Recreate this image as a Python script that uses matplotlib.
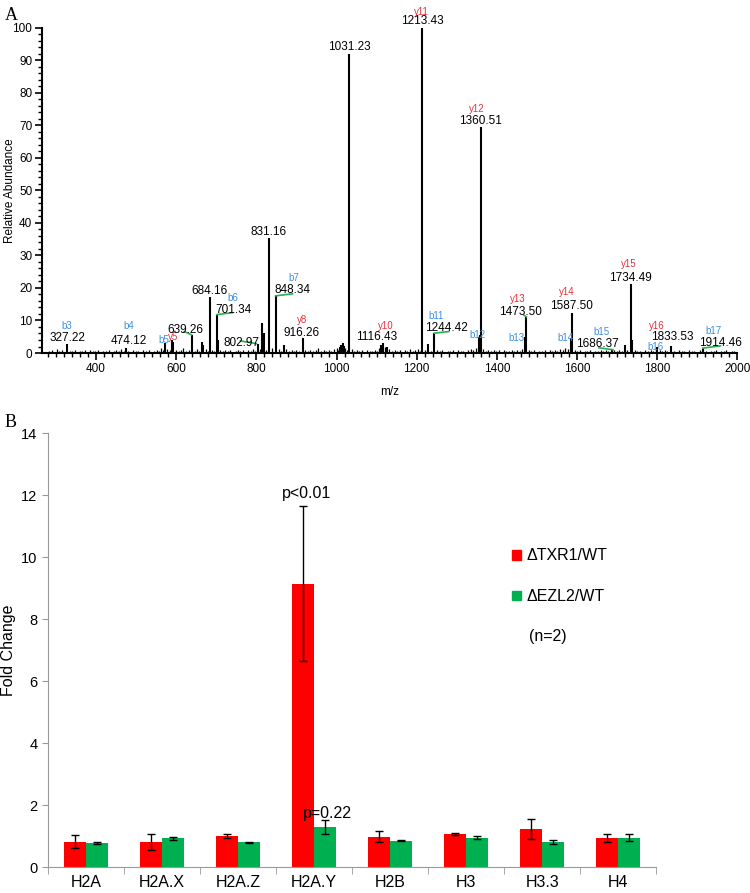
import numpy as np
import matplotlib.pyplot as plt
from matplotlib.patches import Patch
from matplotlib.ticker import MultipleLocator

plt.rcParams['font.family'] = ['Liberation Sans', 'DejaVu Sans']

# ---------------- panel A: MS/MS spectrum ----------------
peak_mz = [327.22, 474.12, 572, 590, 593, 639.26, 664, 668, 684.16, 701.34, 704,
           802.97, 813, 818, 831.16, 848.34, 868, 916.26, 1008, 1012, 1015, 1018,
           1031.23, 1110, 1116.43, 1126, 1213.43, 1229, 1244.42, 1355, 1358, 1360.51,
           1470, 1473.50, 1584, 1587.50, 1686.37, 1720, 1734.49, 1738, 1800, 1833.53,
           1914.46]
peak_int = [2.7, 1.5, 3.0, 4.0, 3.4, 5.5, 3.5, 2.6, 17.3, 11.7, 4.0,
            2.8, 9.3, 6.0, 35.4, 17.5, 2.5, 4.5, 1.8, 2.5, 3.0, 2.2,
            92.0, 2.5, 3.0, 2.0, 100.0, 2.8, 6.2, 5.0, 5.5, 69.5,
            5.0, 11.0, 4.5, 12.3, 1.2, 2.5, 21.2, 4.0, 2.0, 2.2,
            1.5]

noise = [(283, 0.6), (289, 0.9), (296, 0.4), (302, 1.1), (308, 0.5), (314, 0.8), (320, 0.4),
         (335, 0.7), (341, 0.5), (347, 1.0), (353, 0.4), (359, 0.7), (366, 0.5), (372, 0.9),
         (379, 0.4), (385, 0.8), (392, 0.5), (398, 0.6), (405, 0.9), (411, 0.4), (418, 0.7),
         (424, 0.5), (431, 1.0), (437, 0.4), (444, 0.6), (450, 0.8), (457, 0.5), (463, 1.2),
         (469, 0.6), (480, 0.7), (486, 0.4), (492, 0.9), (499, 0.5), (505, 0.7), (512, 0.4),
         (518, 0.8), (525, 0.6), (531, 0.9), (538, 0.4), (544, 0.7), (551, 1.0), (557, 0.6),
         (563, 1.4), (567, 0.8), (578, 1.2), (584, 0.9), (599, 0.8), (606, 0.5), (612, 0.9),
         (618, 1.6), (625, 0.6), (631, 1.0), (646, 0.7), (652, 1.1), (658, 0.6), (674, 1.2),
         (679, 0.7), (690, 0.9), (695, 0.5), (710, 0.9), (716, 0.6), (722, 1.0), (729, 0.5),
         (735, 0.8), (741, 0.4), (748, 0.7), (754, 1.0), (760, 0.5), (767, 0.8), (773, 0.4),
         (779, 0.9), (786, 0.6), (792, 1.1), (797, 0.7), (808, 1.3), (824, 1.0), (838, 1.5),
         (856, 1.1), (862, 0.7), (875, 1.2), (881, 0.6), (888, 0.9), (894, 0.5), (900, 1.0),
         (907, 0.6), (922, 0.8), (929, 0.5), (935, 1.0), (942, 0.6), (948, 0.9), (955, 1.5),
         (961, 0.7), (968, 1.0), (974, 0.5), (981, 0.9), (987, 0.6), (994, 1.2), (1000, 1.4),
         (1004, 1.0), (1022, 1.6), (1026, 0.9), (1038, 1.1), (1044, 0.6), (1050, 0.9), (1057, 0.5),
         (1063, 0.8), (1070, 0.4), (1076, 0.9), (1083, 0.5), (1089, 0.7), (1096, 1.0), (1102, 0.6),
         (1106, 1.5), (1121, 1.8), (1132, 1.2), (1138, 0.6), (1145, 1.0), (1151, 0.5), (1158, 0.8),
         (1164, 0.4), (1171, 0.9), (1177, 0.6), (1184, 1.1), (1190, 0.5), (1197, 0.8), (1203, 1.2),
         (1208, 0.7), (1220, 0.9), (1236, 0.7), (1251, 0.8), (1258, 0.5), (1264, 0.9), (1271, 0.4),
         (1277, 0.7), (1284, 0.5), (1290, 1.0), (1297, 0.4), (1303, 0.8), (1310, 0.5), (1316, 0.7),
         (1323, 0.4), (1329, 0.9), (1336, 1.3), (1341, 1.0), (1347, 1.4), (1366, 1.2), (1372, 0.6),
         (1379, 0.9), (1385, 0.5), (1392, 1.0), (1398, 0.6), (1405, 0.8), (1411, 0.4), (1418, 0.9),
         (1424, 0.5), (1431, 0.7), (1437, 1.0), (1444, 0.5), (1450, 0.8), (1457, 0.6), (1463, 1.1),
         (1480, 0.8), (1486, 0.5), (1493, 0.9), (1499, 0.4), (1506, 0.7), (1512, 0.5), (1519, 0.8),
         (1525, 0.4), (1532, 0.9), (1538, 0.6), (1545, 1.0), (1551, 0.7), (1558, 1.2), (1564, 0.8),
         (1571, 1.5), (1577, 1.2), (1594, 0.9), (1600, 0.5), (1607, 0.8), (1613, 0.4), (1620, 0.7),
         (1626, 0.5), (1633, 0.9), (1639, 0.4), (1646, 0.7), (1652, 0.5), (1659, 0.8), (1665, 0.6),
         (1672, 1.0), (1678, 0.6), (1693, 0.8), (1700, 0.5), (1706, 0.9), (1713, 0.6), (1726, 0.8),
         (1745, 0.9), (1751, 0.5), (1758, 0.7), (1764, 0.4), (1771, 0.9), (1777, 0.5), (1784, 0.8),
         (1790, 0.6), (1796, 1.3), (1806, 1.0), (1812, 0.5), (1819, 0.8), (1825, 0.5), (1841, 0.7),
         (1848, 0.4), (1854, 0.8), (1861, 0.5), (1867, 0.7), (1874, 0.4), (1880, 0.8), (1887, 0.5),
         (1893, 0.7), (1900, 0.4), (1906, 0.8), (1921, 0.6), (1928, 0.4), (1934, 0.7), (1941, 0.5),
         (1947, 0.8), (1954, 0.4), (1960, 0.7), (1967, 0.5), (1973, 0.8), (1980, 0.4), (1986, 0.6),
         (1993, 0.5)]
noise_mz = [n[0] for n in noise]
noise_int = [n[1] for n in noise]

# fragment ion names (text, m/z, height, series)
ion_text = [("b3", 328, 8.3, "b"), ("b4", 482, 8.3, "b"), ("b5", 568, 3.9, "b"),
            ("y5", 591, 5.0, "y"), ("b6", 742, 17.0, "b"), ("b7", 894, 23.0, "b"),
            ("y8", 913, 10.0, "y"), ("y10", 1123, 8.3, "y"), ("y11", 1211, 105.0, "y"),
            ("b11", 1248, 11.4, "b"), ("b12", 1352, 5.5, "b"), ("y12", 1350, 75.0, "y"),
            ("b13", 1450, 4.6, "b"), ("y13", 1452, 16.6, "y"), ("y14", 1575, 18.8, "y"),
            ("b14", 1572, 4.6, "b"), ("b15", 1662, 6.5, "b"), ("y15", 1730, 27.4, "y"),
            ("b16", 1795, 1.9, "b"), ("y16", 1800, 8.3, "y"), ("b17", 1941, 6.8, "b")]
# m/z labels (text, m/z, height)
mz_text = [("327.22", 328, 4.6), ("474.12", 482, 3.7), ("639.26", 622, 7.1),
           ("684.16", 684, 19.0), ("701.34", 742, 13.2), ("831.16", 831, 37.2),
           ("848.34", 891, 19.4), ("802.97", 762, 3.2), ("916.26", 913, 6.2),
           ("1031.23", 1031, 94.0), ("1116.43", 1101, 4.9), ("1213.43", 1213, 102.0),
           ("1244.42", 1275, 7.7), ("1360.51", 1360, 71.4), ("1473.50", 1460, 12.6),
           ("1587.50", 1587, 14.5), ("1686.37", 1652, 2.8), ("1734.49", 1734, 23.0),
           ("1833.53", 1838, 4.8), ("1914.46", 1958, 3.0)]
# green leader lines (m/z0, y0, m/z1, y1)
green_links = [(620, 6.6, 638, 5.6), (701, 11.8, 740, 12.4), (848, 17.6, 890, 18.2),
               (760, 3.7, 800, 2.9), (1244, 6.1, 1280, 6.6), (1468, 11.6, 1474, 11.1),
               (1655, 1.6, 1690, 1.0), (1914, 1.5, 1958, 2.2)]

# ---------------- panel B: fold change ----------------
histones = ["H2A", "H2A.X", "H2A.Z", "H2A.Y", "H2B", "H3", "H3.3", "H4"]
txr1 = [0.82, 0.80, 1.00, 9.13, 0.98, 1.07, 1.22, 0.95]
txr1_err = [0.21, 0.25, 0.08, 2.5, 0.18, 0.04, 0.33, 0.13]
ezl2 = [0.77, 0.93, 0.80, 1.29, 0.85, 0.95, 0.80, 0.95]
ezl2_err = [0.03, 0.05, 0.01, 0.22, 0.02, 0.04, 0.06, 0.12]

fig = plt.figure(figsize=(7.5, 8.93), dpi=100)

# ---- A ----
ax = fig.add_axes([0.056, 0.6047, 0.927, 0.364])
ax.vlines(noise_mz, 0, noise_int, color="black", lw=0.9)
ax.vlines(peak_mz, 0, peak_int, color="black", lw=1.5)
for x0, y0, x1, y1 in green_links:
    ax.plot([x0, x1], [y0, y1], color="#22b14c", lw=1.2)
for txt, x, y, kind in ion_text:
    ax.text(x, y, txt, color="#3b8fe3" if kind == "b" else "#e8303a",
            fontsize=7, ha="center", va="center")
for txt, x, y in mz_text:
    ax.text(x, y, txt, fontsize=8.5, ha="center", va="center")
ax.set_xlim(265, 2000)
ax.set_ylim(0, 100)
ax.xaxis.set_major_locator(MultipleLocator(200))
ax.xaxis.set_minor_locator(MultipleLocator(20))
ax.yaxis.set_major_locator(MultipleLocator(10))
ax.yaxis.set_minor_locator(MultipleLocator(2))
ax.tick_params(which="major", length=5, width=1.2, labelsize=8.5, pad=2)
ax.tick_params(which="minor", length=3, width=1.0)
for s in ["top", "right"]:
    ax.spines[s].set_visible(False)
for s in ["left", "bottom"]:
    ax.spines[s].set_linewidth(1.5)
ax.set_xlabel("m/z", fontsize=8.5, labelpad=8)
ax.set_ylabel("Relative Abundance", fontsize=8.5)
ax.yaxis.set_label_coords(-0.038, 0.5)
fig.text(0.006, 0.992, "A", fontsize=13, family="Liberation Serif", va="top")

# ---- B ----
bx = fig.add_axes([0.064, 0.0291, 0.811, 0.486])
x = np.arange(len(histones))
w = 0.29
err_kw = dict(ecolor="black", elinewidth=1.0, capsize=3, capthick=1.0)
bx.bar(x - w / 2, txr1, w, yerr=txr1_err, color="#ff0000", error_kw=err_kw,
       label="\u0394TXR1/WT")
bx.bar(x + w / 2, ezl2, w, yerr=ezl2_err, color="#00b050", error_kw=err_kw,
       label="\u0394EZL2/WT")
bx.text(3 - w / 2 + 0.05, 12.06, "p<0.01", fontsize=11.5, ha="center", va="center")
bx.text(3 + w / 2 + 0.03, 1.74, "p=0.22", fontsize=11.5, ha="center", va="center")
bx.text(0.822, 0.53, "(n=2)", fontsize=11.5, ha="center", va="center",
        transform=bx.transAxes)
handles = [Patch(color="#ff0000"), Patch(color="#00b050")]
bx.legend(handles, ["\u0394TXR1/WT", "\u0394EZL2/WT"], loc="center left",
          bbox_to_anchor=(0.74, 0.67), frameon=False, fontsize=11.5,
          handlelength=0.55, handleheight=0.55, handletextpad=0.35,
          labelspacing=1.6)
bx.set_xlim(-0.5, 7.5)
bx.set_ylim(0, 14)
bx.set_yticks(range(0, 15, 2))
bx.set_xticks(x)
bx.set_xticklabels(histones)
bx.set_xticks(np.arange(-0.5, 8, 1), minor=True)
bx.tick_params(axis="x", which="major", length=0, labelsize=11.5, pad=6)
bx.tick_params(axis="x", which="minor", length=5, color="#999999")
bx.tick_params(axis="y", length=4, color="#999999", labelsize=10.5)
for s in ["top", "right"]:
    bx.spines[s].set_visible(False)
for s in ["left", "bottom"]:
    bx.spines[s].set_color("#999999")
bx.set_ylabel("Fold Change", fontsize=11.5)
bx.yaxis.set_label_coords(-0.052, 0.5)
fig.text(0.006, 0.536, "B", fontsize=13, family="Liberation Serif", va="top")

fig.savefig("out.png", dpi=100)
